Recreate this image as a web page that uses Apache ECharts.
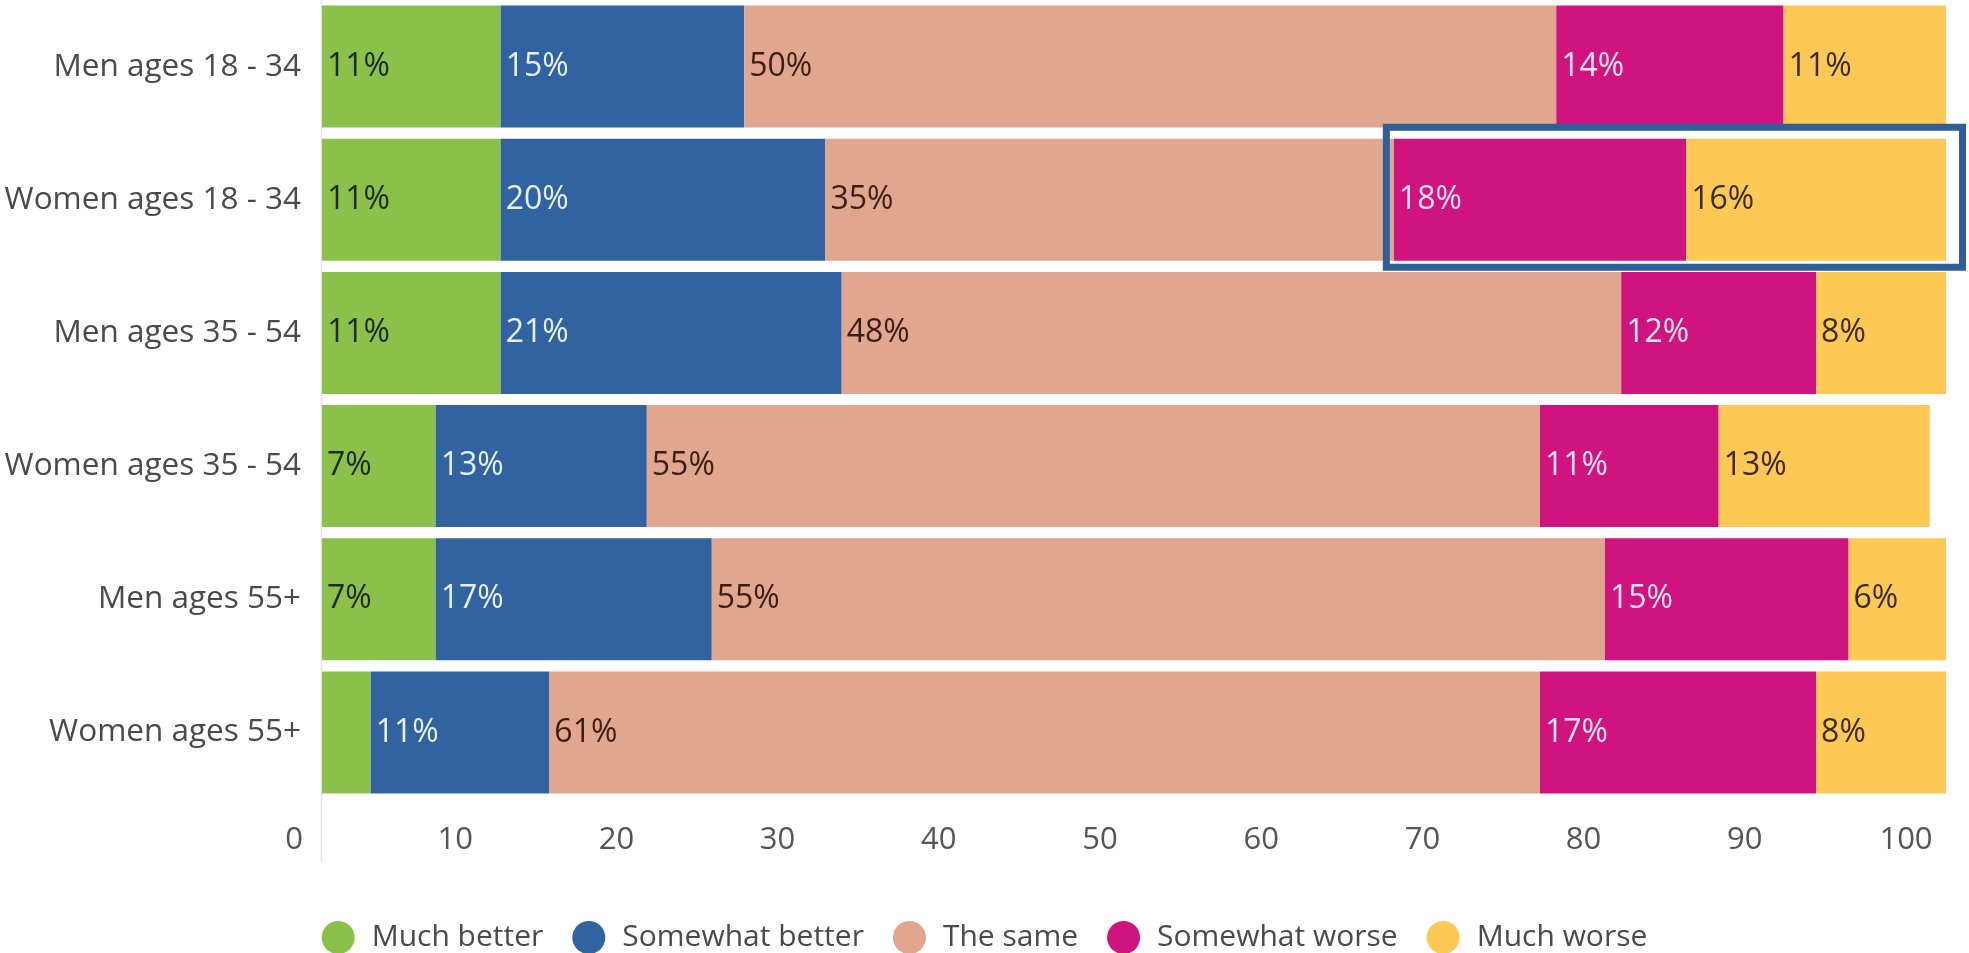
<!DOCTYPE html>
<html>
<head>
<meta charset="utf-8">
<script src="https://cdn.jsdelivr.net/npm/echarts@6/dist/echarts.min.js"></script>
<style>
  html, body { margin: 0; padding: 0; background: #ffffff; }
  #chart { width: 1969px; height: 953px; }
</style>
</head>
<body>
<div id="chart"></div>
<script>
// ---- Data ----
const categories = ['Men ages 18 - 34', 'Women ages 18 - 34', 'Men ages 35 - 54', 'Women ages 35 - 54', 'Men ages 55+', 'Women ages 55+'];
const seriesNames = ['Much better', 'Somewhat better', 'The same', 'Somewhat worse', 'Much worse'];
const muchBetter     = [11, 11, 11, 7, 7, 3];
const somewhatBetter = [15, 20, 21, 13, 17, 11];
const theSame        = [50, 35, 48, 55, 55, 61];
const somewhatWorse  = [14, 18, 12, 11, 15, 17];
const muchWorse      = [11, 16, 8, 13, 6, 8];
const xTickMin = 0, xTickMax = 100, xTickStep = 10;
const highlightRow = 'Women ages 18 - 34';

// ---- Styles ----
const FONT = 'Open Sans';
const colors = ['#8bc14b', '#3063a0', '#e0a68e', '#cf137f', '#fdc853'];
const labelColors = ['#1c2b12', '#e8f0fb', '#3a1e14', '#fde3f1', '#3a2c10'];
const values = [muchBetter, somewhatBetter, theSame, somewhatWorse, muchWorse];

const chart = echarts.init(document.getElementById('chart'), null, { renderer: 'canvas' });

const series = seriesNames.map((name, i) => ({
  name: name,
  type: 'bar',
  stack: 'total',
  xAxisIndex: 0,
  yAxisIndex: 0,
  barWidth: 122,
  clip: true,
  itemStyle: { color: colors[i] },
  label: {
    show: true,
    position: 'insideLeft',
    distance: 5,
    fontFamily: FONT,
    fontSize: 32,
    color: labelColors[i],
    formatter: p => (p.value >= 5 ? p.value + '%' : '')
  },
  emphasis: { disabled: true },
  data: values[i]
}));

const option = {
  animation: false,
  backgroundColor: '#ffffff',
  textStyle: { fontFamily: FONT },
  grid: [
    { left: 322, right: 23, top: -5, height: 804, containLabel: false },
    { left: 294, right: 63, top: 800, height: 10, containLabel: false }
  ],
  xAxis: [
    {
      gridIndex: 0, type: 'value', min: 0, max: 100,
      show: false
    },
    {
      gridIndex: 1, type: 'value', min: xTickMin, max: xTickMax, interval: xTickStep,
      position: 'bottom',
      axisLine: { show: false }, axisTick: { show: false }, splitLine: { show: false },
      axisLabel: {
        show: true, fontFamily: FONT, fontSize: 31, color: '#555555',
        margin: 30, verticalAlign: 'middle'
      }
    }
  ],
  yAxis: [
    {
      gridIndex: 0, type: 'category', data: categories, inverse: true,
      axisLine: { show: false }, axisTick: { show: false }, splitLine: { show: false },
      axisLabel: { fontFamily: FONT, fontSize: 31.5, color: '#4a4a4a', margin: 21 }
    },
    { gridIndex: 1, type: 'value', show: false }
  ],
  legend: {
    data: seriesNames,
    left: 'center',
    top: 921,
    icon: 'circle',
    itemWidth: 33,
    itemHeight: 33,
    itemGap: 29,
    padding: 0,
    textStyle: { fontFamily: FONT, fontSize: 30, color: '#4a4a4a', padding: [0, 0, 0, 12] }
  },
  series: series
};

chart.setOption(option);

// Annotation elements positioned through the data scales
const rowIdx = categories.indexOf(highlightRow);
const startVal = muchBetter[rowIdx] + somewhatBetter[rowIdx] + theSame[rowIdx];
const pStart = chart.convertToPixel({ xAxisIndex: 0, yAxisIndex: 0 }, [startVal, highlightRow]);
const pEnd = chart.convertToPixel({ xAxisIndex: 0, yAxisIndex: 0 }, [100, highlightRow]);
const pZero = chart.convertToPixel({ xAxisIndex: 0, yAxisIndex: 0 }, [0, categories[0]]);

const bx = pStart[0] - 7.5;
const by = pStart[1] - 72.5;
const bw = (pEnd[0] + 16.5) - bx;
const bh = 140;

chart.setOption({
  graphic: [
    {
      type: 'line', z: 0, silent: true,
      shape: { x1: pZero[0] - 0.5, y1: 0, x2: pZero[0] - 0.5, y2: 862 },
      style: { stroke: '#e2e2e2', lineWidth: 1.5 }
    },
    {
      type: 'rect', z: 100, silent: true,
      shape: { x: bx, y: by, width: bw, height: bh },
      style: { fill: 'none', stroke: '#2f5f98', lineWidth: 7 }
    }
  ]
});
</script>
</body>
</html>
